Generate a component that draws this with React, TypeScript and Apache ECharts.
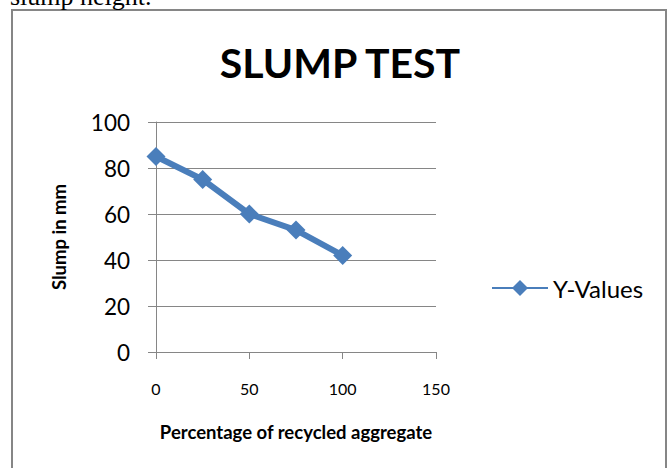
import React, { useEffect, useRef } from "react";
import * as echarts from "echarts";

const xValues = [0, 25, 50, 75, 100];
const yValues = [85, 75, 60, 53, 42];
const seriesName = "Y-Values";
const chartTitle = "SLUMP TEST";
const xAxisName = "Percentage of recycled aggregate";
const yAxisName = "Slump in mm";
const captionText = "slump height.";

export default function App() {
  const ref = useRef<HTMLDivElement>(null);
  useEffect(() => {
    if (!ref.current) return;
    const chart = echarts.init(ref.current, undefined, { renderer: "svg" });
    const sans = "Lato, 'Open Sans', sans-serif";
    const blue = "#4A7EBB";
    const gray = "#868686";
    chart.setOption({
      animation: false,
      backgroundColor: "#ffffff",
      legend: {
        left: 486,
        top: 271,
        itemWidth: 56,
        itemHeight: 20,
        textStyle: { fontFamily: sans, fontSize: 24, color: "#000" },
        data: [seriesName],
      },
      grid: { left: 156, right: 236, top: 122, bottom: 116 },
      xAxis: {
        type: "value",
        min: 0,
        max: 150,
        interval: 50,
        name: xAxisName,
        nameLocation: "middle",
        nameGap: 70,
        nameTextStyle: { fontFamily: sans, fontWeight: "bold", fontSize: 18.5, color: "#000" },
        axisLine: { show: true, lineStyle: { color: gray, width: 1 } },
        axisTick: { show: true, length: 7, inside: false, lineStyle: { color: gray } },
        axisLabel: { fontFamily: sans, fontSize: 16, color: "#000", margin: 28 },
        splitLine: { show: false },
      },
      yAxis: {
        type: "value",
        min: 0,
        max: 100,
        interval: 20,
        name: yAxisName,
        nameLocation: "middle",
        nameGap: 88,
        nameRotate: 90,
        nameTextStyle: { fontFamily: sans, fontWeight: "bold", fontSize: 18.5, color: "#000" },
        axisLine: { show: true, lineStyle: { color: gray, width: 1 } },
        axisTick: { show: true, length: 8, lineStyle: { color: gray } },
        axisLabel: { fontFamily: sans, fontSize: 22.5, color: "#000", margin: 26 },
        splitLine: { show: true, lineStyle: { color: gray, width: 1 } },
      },
      series: [
        {
          name: seriesName,
          type: "line",
          data: xValues.map((x, i) => [x, yValues[i]]),
          symbol: "diamond",
          symbolSize: 19,
          lineStyle: { color: blue, width: 6 },
          itemStyle: { color: blue },
        },
      ],
      graphic: [
        {
          type: "rect",
          shape: { x: 12, y: 10, width: 654, height: 470 },
          style: { fill: "none", stroke: gray, lineWidth: 2 },
          silent: true,
        },
        {
          type: "text",
          x: 10,
          y: -4,
          style: {
            text: captionText,
            fontFamily: "'Liberation Serif', serif",
            fontSize: 26,
            fill: "#000",
            verticalAlign: "middle",
          },
          silent: true,
        },
        {
          type: "text",
          x: 340,
          y: 62,
          style: {
            text: chartTitle,
            fontFamily: sans,
            fontWeight: "bold",
            fontSize: 41,
            fill: "#000",
            align: "center",
            verticalAlign: "middle",
          },
          silent: true,
        },
      ],
    });
    return () => chart.dispose();
  }, []);
  return (
    <div
      ref={ref}
      style={{ position: "fixed", left: 0, top: 0, width: 672, height: 468 }}
    />
  );
}
